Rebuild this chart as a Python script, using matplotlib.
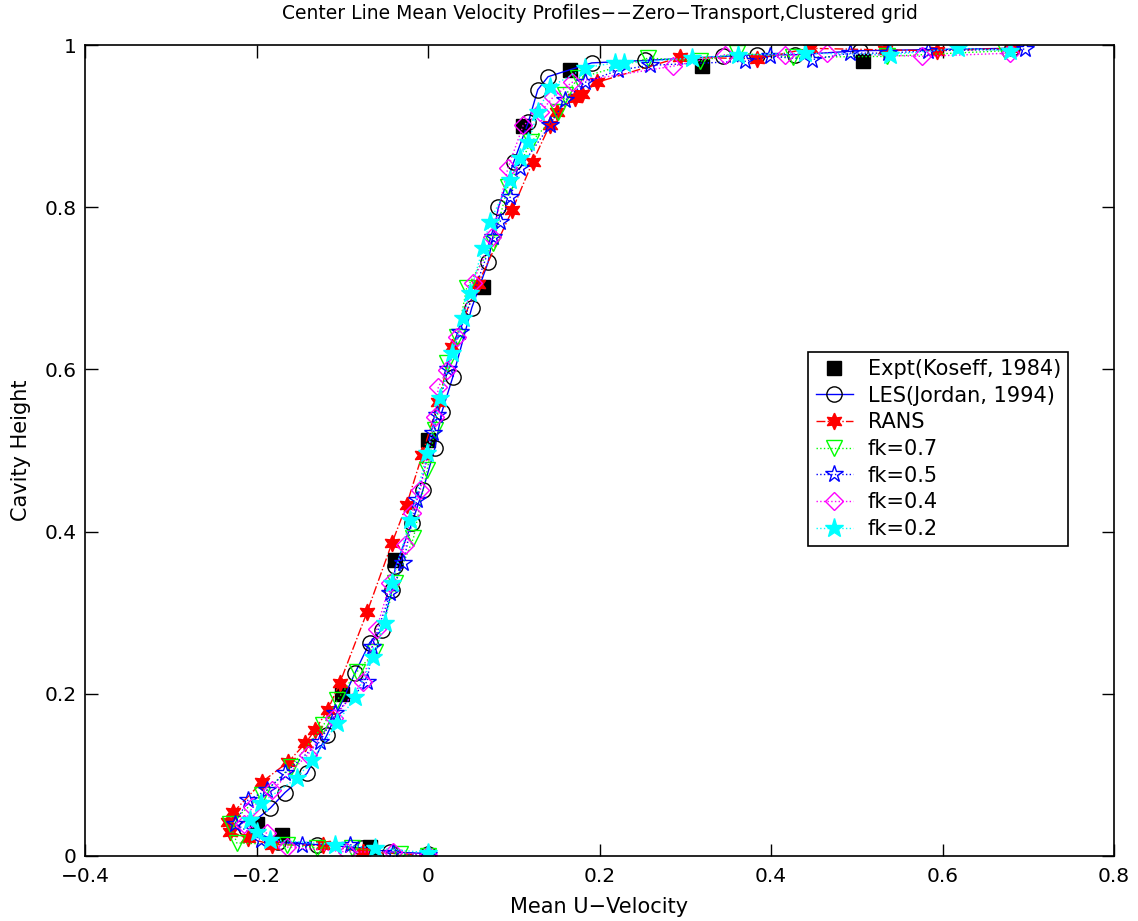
import matplotlib
matplotlib.use("Agg")
import matplotlib.pyplot as plt

plt.rcParams['font.family'] = ['DejaVu Sans']

# Experimental data (Koseff, 1984)
expt_u = [-0.068, -0.170, -0.200, -0.100, -0.038, 0.000, 0.064, 0.111, 0.166, 0.320, 0.507]
expt_y = [0.011, 0.026, 0.040, 0.200, 0.365, 0.513, 0.702, 0.900, 0.969, 0.974, 0.980]

# LES (Jordan, 1994)
les_u = [0.000, -0.044, -0.077, -0.130, -0.175, -0.212, -0.184, -0.167, -0.141, -0.118, -0.085,
         -0.068, -0.054, -0.042, -0.038, -0.019, -0.006, 0.008, 0.016, 0.029, 0.051, 0.070,
         0.082, 0.100, 0.117, 0.128, 0.140, 0.191, 0.253, 0.344, 0.384, 0.428, 0.504, 0.681]
les_y = [0.003, 0.005, 0.010, 0.014, 0.017, 0.035, 0.059, 0.078, 0.102, 0.149, 0.226,
         0.263, 0.279, 0.328, 0.357, 0.410, 0.451, 0.503, 0.547, 0.591, 0.676, 0.732,
         0.800, 0.856, 0.905, 0.945, 0.961, 0.978, 0.981, 0.986, 0.988, 0.988, 0.993, 0.996]

# RANS
rans_u = [0.000, -0.076, -0.122, -0.182, -0.210, -0.231, -0.233, -0.227, -0.194, -0.163, -0.143,
          -0.132, -0.117, -0.103, -0.071, -0.042, -0.025, -0.007, 0.012, 0.028, 0.058, 0.098,
          0.122, 0.142, 0.150, 0.171, 0.180, 0.197, 0.294, 0.384, 0.445, 0.533, 0.594, 0.681]
rans_y = [0.001, 0.005, 0.013, 0.014, 0.022, 0.030, 0.042, 0.054, 0.091, 0.116, 0.139,
          0.155, 0.180, 0.213, 0.301, 0.386, 0.433, 0.494, 0.560, 0.628, 0.705, 0.796,
          0.856, 0.901, 0.917, 0.935, 0.940, 0.954, 0.985, 0.983, 0.996, 0.994, 0.993, 0.996]

# PANS, fk = 0.7
fk07_u = [0.000, -0.033, -0.089, -0.130, -0.164, -0.223, -0.231, -0.194, -0.160, -0.122, -0.106,
          -0.083, -0.062, -0.038, -0.017, -0.001, 0.008, 0.022, 0.034, 0.045, 0.076, 0.093,
          0.120, 0.152, 0.160, 0.175, 0.257, 0.317, 0.360, 0.426, 0.535, 0.673]
fk07_y = [0.000, 0.002, 0.010, 0.010, 0.014, 0.016, 0.040, 0.075, 0.110, 0.161, 0.192,
          0.227, 0.252, 0.337, 0.392, 0.476, 0.525, 0.608, 0.640, 0.700, 0.756, 0.825,
          0.880, 0.917, 0.938, 0.959, 0.984, 0.980, 0.990, 0.985, 0.986, 0.993]

# PANS, fk = 0.5
fk05_u = [0.000, -0.041, -0.091, -0.147, -0.195, -0.225, -0.210, -0.188, -0.167, -0.126, -0.108,
          -0.071, -0.065, -0.044, -0.029, -0.013, 0.006, 0.010, 0.023, 0.037, 0.076, 0.084,
          0.096, 0.107, 0.142, 0.160, 0.183, 0.222, 0.259, 0.370, 0.399, 0.448, 0.492, 0.536,
          0.583, 0.696]
fk05_y = [0.001, 0.004, 0.014, 0.014, 0.020, 0.040, 0.069, 0.081, 0.102, 0.141, 0.176,
          0.215, 0.258, 0.324, 0.361, 0.439, 0.521, 0.544, 0.600, 0.646, 0.763, 0.782,
          0.813, 0.848, 0.901, 0.932, 0.954, 0.969, 0.975, 0.980, 0.986, 0.982, 0.990, 0.990,
          0.993, 0.995]

# PANS, fk = 0.4
fk04_u = [0.000, -0.041, -0.094, -0.164, -0.188, -0.215, -0.205, -0.182, -0.140, -0.110, -0.076,
          -0.060, -0.044, -0.027, -0.019, -0.009, 0.008, 0.012, 0.022, 0.034, 0.052, 0.075,
          0.093, 0.111, 0.131, 0.146, 0.168, 0.286, 0.346, 0.416, 0.465, 0.576, 0.679]
fk04_y = [0.001, 0.005, 0.005, 0.011, 0.028, 0.040, 0.060, 0.081, 0.125, 0.170, 0.215,
          0.280, 0.337, 0.383, 0.423, 0.451, 0.541, 0.578, 0.599, 0.640, 0.707, 0.763,
          0.848, 0.901, 0.917, 0.936, 0.954, 0.974, 0.988, 0.988, 0.990, 0.986, 0.990]

# PANS, fk = 0.2
fk02_u = [0.000, -0.062, -0.108, -0.184, -0.200, -0.208, -0.195, -0.153, -0.135, -0.106, -0.085,
          -0.064, -0.050, -0.042, -0.021, -0.001, 0.014, 0.028, 0.041, 0.049, 0.064, 0.072,
          0.096, 0.107, 0.117, 0.128, 0.142, 0.183, 0.218, 0.228, 0.308, 0.362, 0.440, 0.539,
          0.618, 0.679]
fk02_y = [0.004, 0.010, 0.014, 0.020, 0.030, 0.044, 0.065, 0.096, 0.118, 0.164, 0.196,
          0.245, 0.287, 0.337, 0.414, 0.497, 0.565, 0.620, 0.663, 0.694, 0.750, 0.782,
          0.834, 0.861, 0.880, 0.917, 0.948, 0.972, 0.978, 0.978, 0.984, 0.988, 0.990, 0.988,
          0.996, 0.993]

x_ticks = [-0.4, -0.2, 0.0, 0.2, 0.4, 0.6, 0.8]
x_tick_labels = ['\u22120.4', '\u22120.2', '0', '0.2', '0.4', '0.6', '0.8']
y_ticks = [0.0, 0.2, 0.4, 0.6, 0.8, 1.0]
y_tick_labels = ['0', '0.2', '0.4', '0.6', '0.8', '1']

fig = plt.figure(figsize=(11.38, 9.21), dpi=100)
ax = fig.add_axes([0.0747, 0.0706, 0.9043, 0.8805])

ms = 11
ax.plot(expt_u, expt_y, linestyle='none', marker='s', color='k', markersize=ms - 1,
        label='Expt(Koseff, 1984)')
ax.plot(les_u, les_y, '-', color='#0000ff', linewidth=1.0, marker='o', mec='k', mfc='none',
        markersize=ms, markeredgewidth=1.0, label='LES(Jordan, 1994)')
ax.plot(rans_u, rans_y, linestyle='-.', color='#ff0000', linewidth=1.0, marker=(6, 1, 0),
        markersize=ms + 1, label='RANS')
ax.plot(fk07_u, fk07_y, linestyle=':', color='#00ff00', linewidth=1.0, marker='v', mfc='none',
        markersize=ms, markeredgewidth=1.0, label='fk=0.7')
ax.plot(fk05_u, fk05_y, linestyle=':', color='#0000ff', linewidth=1.0, marker='*', mfc='none',
        markersize=ms + 2, markeredgewidth=1.0, label='fk=0.5')
ax.plot(fk04_u, fk04_y, linestyle=':', color='#ff00ff', linewidth=1.0, marker='D', mfc='none',
        markersize=ms - 2, markeredgewidth=1.0, label='fk=0.4')
ax.plot(fk02_u, fk02_y, linestyle=':', color='#00ffff', linewidth=1.0, marker='*',
        markersize=ms + 3, label='fk=0.2')

ax.set_xlim(-0.4, 0.8)
ax.set_ylim(0, 1)
ax.set_xticks(x_ticks)
ax.set_xticklabels(x_tick_labels)
ax.set_yticks(y_ticks)
ax.set_yticklabels(y_tick_labels)
ax.tick_params(direction='in', length=9, width=1.0, top=True, right=True,
               labelsize=14.5)
ax.tick_params(axis='x', pad=8)
ax.tick_params(axis='y', pad=6)
for s in ax.spines.values():
    s.set_linewidth(1.2)

ax.set_title('Center Line Mean Velocity Profiles\u2212\u2212Zero\u2212Transport,Clustered grid',
             fontsize=13.5, pad=19)
ax.set_xlabel('Mean U\u2212Velocity', fontsize=15, labelpad=8)
ax.set_ylabel('Cavity Height', fontsize=15, labelpad=10)

leg = ax.legend(loc='upper left', bbox_to_anchor=(0.7103, 0.618), bbox_transform=fig.transFigure,
                fontsize=15, frameon=True, fancybox=False, edgecolor='k', framealpha=1,
                handlelength=1.8, handletextpad=0.7, borderpad=0.35, labelspacing=0.32,
                borderaxespad=0)
leg.get_frame().set_linewidth(1.2)

fig.savefig('out.png', dpi=100)
